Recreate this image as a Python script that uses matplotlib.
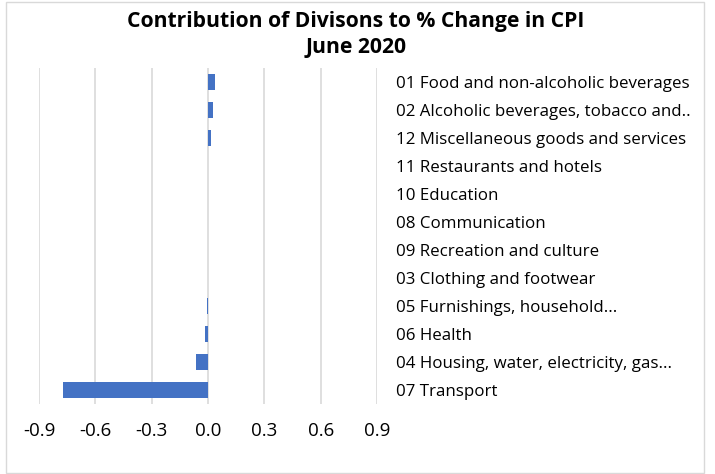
import matplotlib
matplotlib.use("Agg")
import matplotlib.pyplot as plt
from matplotlib.patches import Rectangle

# categories listed top to bottom as in the chart
categories = [
    "01 Food and non-alcoholic beverages",
    "02 Alcoholic beverages, tobacco and..",
    "12 Miscellaneous goods and services",
    "11 Restaurants and hotels",
    "10 Education",
    "08 Communication",
    "09 Recreation and culture",
    "03 Clothing and footwear",
    "05 Furnishings, household...",
    "06 Health",
    "04 Housing, water, electricity, gas...",
    "07 Transport",
]
contribution = [0.036, 0.027, 0.016, 0.0, 0.0, 0.0, 0.0, 0.0, -0.004, -0.014, -0.064, -0.774]
xticks = [-0.9, -0.6, -0.3, 0.0, 0.3, 0.6, 0.9]

plt.rcParams['font.family'] = ['Open Sans', 'DejaVu Sans']

W, H = 715, 474
fig = plt.figure(figsize=(W / 100, H / 100), dpi=100)
ax = fig.add_axes([39 / W, 1 - 404 / H, (377 - 39) / W, (404 - 68) / H])

pos = list(range(len(categories)))
ax.barh(pos, contribution, height=0.59, color='#4472C4', zorder=3)

ax.set_xlim(-0.9, 0.9)
ax.set_ylim(len(categories) - 0.5, -0.5)
ax.set_xticks(xticks)
ax.set_xticklabels(['%.1f' % v for v in xticks], fontsize=13.5)
ax.set_yticks(pos)
ax.set_yticklabels(categories, fontsize=12.2)
ax.yaxis.tick_right()
ax.tick_params(axis='y', length=0, pad=14)
ax.tick_params(axis='x', length=0, pad=13)
ax.grid(axis='x', color='#D9D9D9', linewidth=1.2, zorder=0)
for s in ax.spines.values():
    s.set_visible(False)

fig.text(0.498, 1 - 22 / H, "Contribution of Divisons to % Change in CPI",
         ha='center', va='center', fontsize=15.2, fontweight='bold')
fig.text(0.498, 1 - 48 / H, "June 2020",
         ha='center', va='center', fontsize=15.2, fontweight='bold')

fig.patches.append(Rectangle((6 / W, 1 / H), 698 / W, 471 / H, transform=fig.transFigure,
                             fill=False, edgecolor='#D9D9D9', linewidth=1))

fig.savefig("out.png", dpi=100)
